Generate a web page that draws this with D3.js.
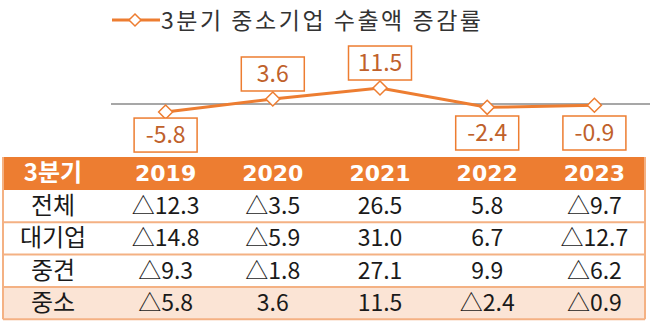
<!DOCTYPE html>
<html><head><meta charset="utf-8">
<script src="https://cdn.jsdelivr.net/npm/d3@7"></script>
<style>body{margin:0;background:#fff}svg{display:block}</style>
</head><body>
<svg id="c" width="650" height="322"></svg>
<script>
const years = ["2019","2020","2021","2022","2023"];
const smeGrowth = [-5.8, 3.6, 11.5, -2.4, -0.9];
const rowLabels = ["전체","대기업","중견","중소"];
const totalVals = [-12.3, -3.5, 26.5, 5.8, -9.7];
const largeVals = [-14.8, -5.9, 31.0, 6.7, -12.7];
const midVals = [-9.3, -1.8, 27.1, 9.9, -6.2];
const smeVals = [-5.8, 3.6, 11.5, -2.4, -0.9];
const headerLabel = "3분기";
const legendLabel = "3분기 중소기업 수출액 증감률";

const ORANGE = "#ED7D31";
const FONT = "'Noto Sans CJK KR','Noto Sans',sans-serif";
const HFONT = "'DejaVu Sans','Noto Sans CJK KR',sans-serif";
const svg = d3.select("#c");

const x = d3.scaleBand().domain(years).range([112, 648]);
const cx = d => x(d) + x.bandwidth() / 2;
const y = d3.scaleLinear().domain([-10, 20]).range([117.9, 76.2]);

// legend
const lg = svg.append("g");
lg.append("line").attr("x1", 112).attr("x2", 160).attr("y1", 20).attr("y2", 20)
  .attr("stroke", ORANGE).attr("stroke-width", 3);
lg.append("path").attr("d", "M135,14L141,20L135,26L129,20Z")
  .attr("fill", "#fff").attr("stroke", ORANGE).attr("stroke-width", 1.5);
lg.append("text").attr("x", 161).attr("y", 29).text(legendLabel)
  .attr("font-family", FONT).attr("font-size", 23).attr("fill", "#333")
  .attr("textLength", 320);

// baseline
svg.append("line").attr("x1", 111).attr("x2", 650).attr("y1", y(0)).attr("y2", y(0))
  .attr("stroke", "#8a8a8a").attr("stroke-width", 1.5);

const pts = years.map((yr, i) => ({yr, v: smeGrowth[i]}));
svg.append("path").datum(pts)
  .attr("d", d3.line().x(d => cx(d.yr)).y(d => y(d.v)))
  .attr("fill", "none").attr("stroke", ORANGE).attr("stroke-width", 3);

svg.selectAll(".mk").data(pts).join("path")
  .attr("d", d => { const px = cx(d.yr), py = y(d.v);
    return `M${px},${py-7}L${px+7},${py}L${px},${py+7}L${px-7},${py}Z`; })
  .attr("fill", "#fff").attr("stroke", ORANGE).attr("stroke-width", 1.5);

const bw = 63, bh = 34;
const lab = svg.selectAll(".lb").data(pts).join("g").attr("transform", d => {
  const px = cx(d.yr), py = y(d.v);
  const top = d.v >= 0 ? py - 8 - bh : Math.max(py + 6, 116);
  return `translate(${px - bw/2},${top})`;
});
lab.append("rect").attr("width", bw).attr("height", bh)
  .attr("fill", "#fff").attr("stroke", ORANGE).attr("stroke-width", 1.5);
lab.append("text").attr("x", bw/2).attr("y", bh/2 + 8).attr("text-anchor", "middle")
  .attr("font-family", FONT).attr("font-size", 23).attr("fill", "#C0612B")
  .text(d => d.v.toFixed(1));

// table
const tblL = 3, tblR = 645, headTop = 157, headBot = 190, rowH = 32.3;
const labelCx = 53;
svg.append("rect").attr("x", tblL).attr("y", headTop).attr("width", tblR - tblL)
  .attr("height", headBot - headTop).attr("fill", ORANGE);
svg.append("text").attr("x", labelCx).attr("y", headBot - 9).attr("text-anchor", "middle")
  .attr("font-family", FONT).attr("font-weight", "bold").attr("font-size", 24)
  .attr("fill", "#fff").text(headerLabel);
svg.selectAll(".hy").data(years).join("text")
  .attr("x", d => cx(d)).attr("y", headBot - 9).attr("text-anchor", "middle")
  .attr("font-family", HFONT).attr("font-weight", "bold").attr("font-size", 22)
  .attr("fill", "#fff").text(d => d);

const rows = [totalVals, largeVals, midVals, smeVals];
const fmt = v => v < 0 ? "△" + Math.abs(v).toFixed(1) : v.toFixed(1);
const bottom = headBot + rowH * rows.length;
svg.append("rect").attr("x", tblL).attr("y", headBot + rowH * 3).attr("width", tblR - tblL)
  .attr("height", rowH).attr("fill", "#FBE4D5");
rows.forEach((vals, r) => {
  const top = headBot + rowH * r;
  svg.append("text").attr("x", labelCx).attr("y", top + rowH/2 + 8)
    .attr("text-anchor", "middle").attr("font-family", FONT).attr("font-size", 24)
    .attr("fill", "#1a1a1a").text(rowLabels[r]);
  svg.append("g").selectAll("text").data(vals).join("text")
    .attr("x", (d, i) => cx(years[i])).attr("y", top + rowH/2 + 8)
    .attr("text-anchor", "middle").attr("font-family", FONT).attr("font-size", 23)
    .attr("fill", "#1a1a1a").text(fmt);
  svg.append("line").attr("x1", tblL).attr("x2", tblR)
    .attr("y1", top + rowH).attr("y2", top + rowH)
    .attr("stroke", "#F4B183").attr("stroke-width", 2);
});
svg.append("line").attr("x1", tblL).attr("x2", tblL).attr("y1", headTop).attr("y2", bottom)
  .attr("stroke", "#F4B183").attr("stroke-width", 2);
svg.append("line").attr("x1", tblR).attr("x2", tblR).attr("y1", headTop).attr("y2", bottom)
  .attr("stroke", "#F4B183").attr("stroke-width", 2);
</script>
</body></html>
